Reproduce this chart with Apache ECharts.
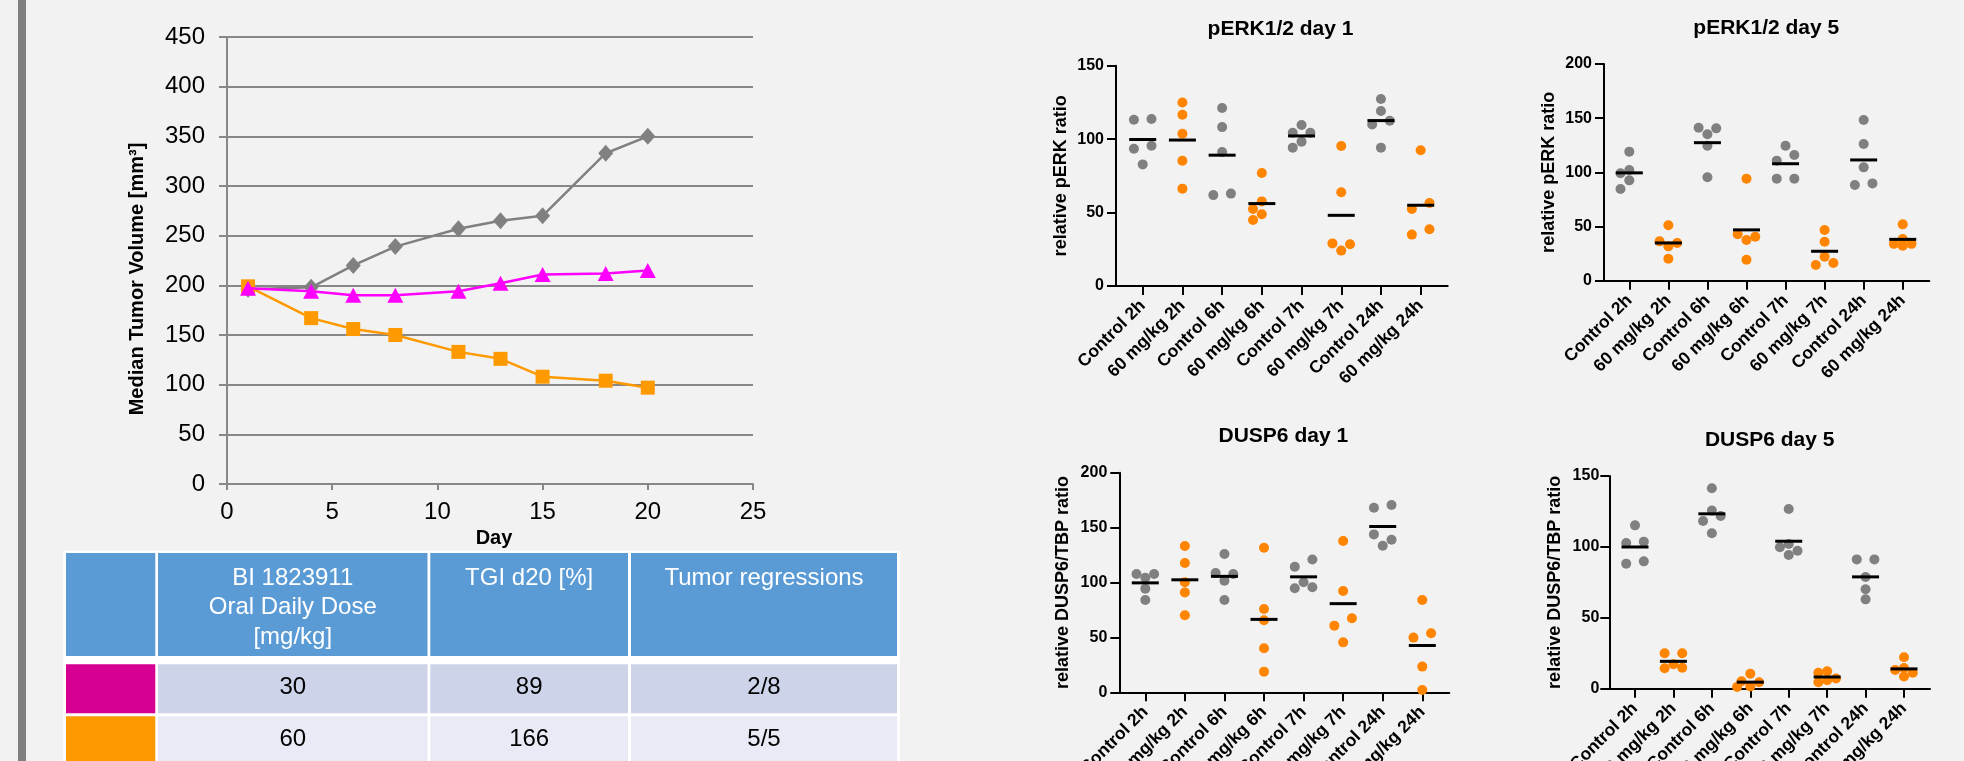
<!DOCTYPE html>
<html>
<head>
<meta charset="utf-8">
<script src="https://cdn.jsdelivr.net/npm/echarts@6/dist/echarts.min.js"></script>
<style>
html,body{margin:0;padding:0;background:#F2F2F2;}
#c{width:1964px;height:761px;}
</style>
</head>
<body>
<div id="c"></div>
<script>
// ===================== DATA =====================
// Median tumor volume chart
const days = [1, 4, 6, 8, 11, 13, 15, 18, 20];
const volControl = [196, 198, 220, 239, 257, 265, 270, 333, 350];
const vol30 = [197, 194, 190, 190, 194, 202, 211, 212, 215];
const vol60 = [199, 167, 156, 150, 133, 126, 108, 104, 97];

// Table below the line chart
const tableHeader = ['', 'BI 1823911\nOral Daily Dose\n[mg/kg]', 'TGI d20 [%]', 'Tumor regressions'];
const tableDose = ['30', '60'];
const tableTGI = ['89', '166'];
const tableRegressions = ['2/8', '5/5'];
const tableSwatch = ['#D60093', '#FF9900'];

// Scatter dot plots (each group: 5 animals)
const groups = ['Control 2h', '60 mg/kg 2h', 'Control 6h', '60 mg/kg 6h',
                'Control 7h', '60 mg/kg 7h', 'Control 24h', '60 mg/kg 24h'];
const perkDay1 = [
  [113.7, 113.2, 95.5, 93.5, 82.8],
  [125.0, 116.6, 103.7, 85.3, 66.3],
  [121.2, 108.2, 91.2, 62.9, 61.9],
  [76.9, 57.6, 52.4, 48.8, 44.9],
  [109.6, 104.4, 104.4, 98.3, 94.2],
  [95.3, 63.8, 29.0, 28.4, 24.1],
  [127.3, 119.1, 112.5, 110.0, 94.2],
  [92.4, 56.5, 52.4, 38.6, 35.0]
];
const perkDay5 = [
  [119.1, 102.2, 99.1, 92.6, 84.6],
  [51.1, 36.3, 34.8, 31.7, 20.3],
  [141.2, 140.6, 135.1, 124.6, 95.4],
  [94.2, 42.8, 40.6, 37.5, 19.4],
  [124.6, 116.0, 110.8, 94.2, 94.2],
  [46.8, 36.0, 22.2, 16.3, 14.5],
  [148.3, 126.2, 104.6, 89.8, 88.3],
  [52.0, 38.5, 34.0, 34.0, 32.3]
];
const duspDay1 = [
  [107.7, 107.7, 104.4, 94.4, 84.1],
  [133.2, 117.8, 100.2, 91.0, 70.1],
  [125.9, 108.6, 107.7, 101.7, 84.1],
  [131.7, 75.9, 65.6, 40.1, 18.8],
  [121.0, 114.3, 100.2, 95.6, 94.7],
  [137.8, 92.3, 67.4, 60.7, 45.5],
  [170.6, 168.1, 143.8, 139.0, 133.5],
  [84.1, 53.7, 49.8, 23.4, 2.1]
];
const duspDay5 = [
  [115.2, 103.7, 102.8, 89.8, 88.2],
  [25.0, 25.0, 17.3, 14.8, 14.4],
  [141.3, 125.6, 121.8, 118.3, 109.6],
  [10.5, 5.3, 4.6, 1.5, 1.2],
  [126.7, 102.0, 99.7, 97.3, 94.3],
  [12.3, 11.2, 7.2, 6.0, 4.6],
  [91.2, 91.2, 78.8, 70.1, 63.0],
  [22.2, 14.6, 13.2, 11.2, 8.6]
];

// ===================== LAYOUT / STYLE =====================
const FONT = '"Liberation Sans", Arial, Helvetica, sans-serif';
const DOT = 10;     // dot diameter px
const SLOT = 8.8;   // horizontal spread step px

const panels = [
  {title: 'pERK1/2 day 1', yName: 'relative pERK ratio', data: perkDay1, yMax: 150,
   left: 1116, top: 65.7, right: 1447.7, bottom: 286, firstTick: 1142.7, band: 39.71,
   titleX: 1280.5, titleY: 29.5, nameX: 1060.7, labelMargin: 12},
  {title: 'pERK1/2 day 5', yName: 'relative pERK ratio', data: perkDay5, yMax: 200,
   left: 1604, top: 64, right: 1929.3, bottom: 280.7, firstTick: 1629.3, band: 39.06,
   titleX: 1766.3, titleY: 28.3, nameX: 1549.3, labelMargin: 12},
  {title: 'DUSP6 day 1', yName: 'relative DUSP6/TBP ratio', data: duspDay1, yMax: 200,
   left: 1119.3, top: 472.7, right: 1449.3, bottom: 692.3, firstTick: 1145.3, band: 39.57,
   titleX: 1283.3, titleY: 436, nameX: 1062.7, labelMargin: 12},
  {title: 'DUSP6 day 5', yName: 'relative DUSP6/TBP ratio', data: duspDay5, yMax: 150,
   left: 1609.3, top: 476, right: 1930, bottom: 688.7, firstTick: 1635, band: 38.43,
   titleX: 1769.7, titleY: 440.7, nameX: 1555, labelMargin: 10}
];

// beeswarm-like horizontal spreading (in slot units), computed from the values
function swarm(vals, d) {
  const idx = vals.map((v, i) => i).sort((a, b) => vals[b] - vals[a]);
  const off = new Array(vals.length).fill(0);
  const rows = [];
  idx.forEach((id, k) => {
    if (k > 0 && vals[idx[k - 1]] - vals[id] < d) rows[rows.length - 1].push(id);
    else rows.push([id]);
  });
  rows.forEach(r => {
    if (r.length === 1) { off[r[0]] = 0; }
    else if (r.length === 2) { off[r[0]] = 1; off[r[1]] = -1; }
    else if (r.length === 3) {
      const g01 = vals[r[0]] - vals[r[1]], g12 = vals[r[1]] - vals[r[2]];
      if (g01 <= g12) { off[r[0]] = -1; off[r[1]] = 1; off[r[2]] = 0; }
      else { off[r[1]] = 1; off[r[2]] = -1; off[r[0]] = 0; }
    } else {
      const placed = [];
      const cands = [0, -1, 1, -0.5, 0.5, -1.5, 1.5];
      r.forEach(id => {
        let best = 0, bestD = -1;
        for (const c of cands) {
          let md = Infinity;
          placed.forEach(([pc, pid]) => {
            const dy = (vals[id] - vals[pid]) / d, dx = c - pc;
            md = Math.min(md, Math.hypot(dx, dy));
          });
          if (md >= 0.9) { best = c; break; }
          if (md > bestD) { bestD = md; best = c; }
        }
        off[id] = best; placed.push([best, id]);
      });
    }
  });
  return off;
}

const grids = [], xAxes = [], yAxes = [], series = [], graphics = [];
const pairs = (xs, ys) => xs.map((x, i) => [x, ys[i]]);

// ---------- line chart ----------
grids.push({left: 227, top: 37, width: 526, height: 447, outerBoundsMode: 'none'});
const lineGray = '#878787';
xAxes.push({
  type: 'value', gridIndex: 0, min: 0, max: 25, interval: 5,
  name: 'Day', nameLocation: 'middle', nameGap: 33,
  nameTextStyle: {fontFamily: FONT, fontWeight: 'bold', fontSize: 20, color: '#000', padding: [0, 0, 0, 8]},
  axisLine: {show: true, onZero: false, lineStyle: {color: lineGray, width: 2}},
  axisTick: {show: true, length: 6, lineStyle: {color: lineGray, width: 2}},
  axisLabel: {fontFamily: FONT, fontSize: 24, color: '#000', margin: 16},
  splitLine: {show: false}
});
yAxes.push({
  type: 'value', gridIndex: 0, min: 0, max: 450, interval: 50,
  name: 'Median Tumor Volume [mm³]', nameLocation: 'middle', nameGap: 80,
  nameTextStyle: {fontFamily: FONT, fontWeight: 'bold', fontSize: 20, color: '#000', padding: [0, 37, 0, 0]},
  axisLine: {show: true, onZero: false, lineStyle: {color: lineGray, width: 2}},
  axisTick: {show: true, length: 8, lineStyle: {color: lineGray, width: 2}},
  axisLabel: {fontFamily: FONT, fontSize: 24, color: '#000', margin: 22},
  splitLine: {show: true, lineStyle: {color: lineGray, width: 2}}
});
series.push({type: 'line', xAxisIndex: 0, yAxisIndex: 0, data: pairs(days, volControl),
  symbol: 'diamond', symbolSize: [15, 17], lineStyle: {color: '#808080', width: 2.5},
  itemStyle: {color: '#808080'}, z: 2});
series.push({type: 'line', xAxisIndex: 0, yAxisIndex: 0, data: pairs(days, vol60),
  symbol: 'rect', symbolSize: 14, lineStyle: {color: '#FF9900', width: 2.5},
  itemStyle: {color: '#FF9900'}, z: 3});
series.push({type: 'line', xAxisIndex: 0, yAxisIndex: 0, data: pairs(days, vol30),
  symbol: 'triangle', symbolSize: [16, 15], lineStyle: {color: '#FF00FF', width: 2.5},
  itemStyle: {color: '#FF00FF'}, z: 4});

// ---------- scatter panels ----------
panels.forEach((p, k) => {
  const gi = k + 1;
  grids.push({left: p.left, top: p.top, width: p.right - p.left, height: p.bottom - p.top, outerBoundsMode: 'none'});
  const ticks = groups.map((g, i) => i);
  xAxes.push({
    type: 'value', gridIndex: gi,
    min: (p.left - p.firstTick) / p.band, max: (p.right - p.firstTick) / p.band,
    axisLine: {show: true, onZero: false, lineStyle: {color: '#000', width: 2}},
    axisTick: {show: true, customValues: ticks, length: 9, lineStyle: {color: '#000', width: 2}},
    axisLabel: {show: true, customValues: ticks, formatter: v => groups[Math.round(v)],
      rotate: 45, margin: 17, padding: [24, 0, 0, 0],
      fontFamily: FONT, fontWeight: 'bold', fontSize: 17.5, color: '#000'},
    splitLine: {show: false}
  });
  yAxes.push({
    type: 'value', gridIndex: gi, min: 0, max: p.yMax, interval: 50,
    name: p.yName, nameLocation: 'middle', nameGap: p.left - p.nameX - 9,
    nameTextStyle: {fontFamily: FONT, fontWeight: 'bold', fontSize: 18, color: '#000'},
    axisLine: {show: true, onZero: false, lineStyle: {color: '#000', width: 2}},
    axisTick: {show: true, length: 9, lineStyle: {color: '#000', width: 2}},
    axisLabel: {fontFamily: FONT, fontWeight: 'bold', fontSize: 16, color: '#000', margin: p.labelMargin},
    splitLine: {show: false}
  });
  const dUnits = DOT / ((p.bottom - p.top) / p.yMax);
  const slotUnit = SLOT / p.band;
  const ctrl = [], trt = [], means = [];
  p.data.forEach((vals, i) => {
    const offs = swarm(vals, dUnits);
    vals.forEach((v, j) => (i % 2 === 0 ? ctrl : trt).push([i + offs[j] * slotUnit, v]));
    means.push([i, vals.reduce((a, b) => a + b, 0) / vals.length]);
  });
  series.push({type: 'scatter', xAxisIndex: gi, yAxisIndex: gi, data: ctrl, symbolSize: DOT,
    itemStyle: {color: '#808080', opacity: 1}, z: 2});
  series.push({type: 'scatter', xAxisIndex: gi, yAxisIndex: gi, data: trt, symbolSize: DOT,
    itemStyle: {color: '#FF8400', opacity: 1}, z: 2});
  series.push({type: 'scatter', xAxisIndex: gi, yAxisIndex: gi, data: means, symbol: 'rect',
    symbolSize: [27, 3], itemStyle: {color: '#000', opacity: 1}, z: 3});
  graphics.push({type: 'text', style: {text: p.title, x: p.titleX, y: p.titleY,
    textAlign: 'center', textVerticalAlign: 'middle', fill: '#000',
    font: 'bold 21px ' + FONT}});
});

// ---------- left bar ----------
graphics.push({type: 'rect', shape: {x: 18, y: 0, width: 8, height: 761}, style: {fill: '#7F7F7F'}, z: 0});

// ---------- table ----------
const colX = [[66, 155.3], [158, 427.5], [430.3, 628], [631, 897]];
const headY = [553, 656];
const rowY = [[664.3, 713.3], [716.3, 765.3]];
const rowFill = ['#CDD4EA', '#E8EBF5'];
graphics.push({type: 'rect', shape: {x: 63.3, y: 550.7, width: 836.7, height: 215}, style: {fill: '#FFFFFF'}, z: 0});
colX.forEach((c, j) => {
  graphics.push({type: 'rect', shape: {x: c[0], y: headY[0], width: c[1] - c[0], height: headY[1] - headY[0]},
    style: {fill: '#5B9BD5'}, z: 1});
  if (tableHeader[j]) {
    graphics.push({type: 'text', z: 2, style: {text: tableHeader[j], x: (c[0] + c[1]) / 2, y: 563.3,
      textAlign: 'center', textVerticalAlign: 'top', lineHeight: 29.5, fill: '#FFFFFF',
      font: '24px ' + FONT}});
  }
});
tableDose.forEach((dose, r) => {
  const cells = [null, dose, tableTGI[r], tableRegressions[r]];
  colX.forEach((c, j) => {
    graphics.push({type: 'rect', shape: {x: c[0], y: rowY[r][0], width: c[1] - c[0], height: rowY[r][1] - rowY[r][0]},
      style: {fill: j === 0 ? tableSwatch[r] : rowFill[r]}, z: 1});
    if (cells[j] !== null) {
      graphics.push({type: 'text', z: 2, style: {text: cells[j], x: (c[0] + c[1]) / 2,
        y: (rowY[r][0] + rowY[r][1]) / 2 - 1.5, textAlign: 'center', textVerticalAlign: 'middle',
        fill: '#000', font: '24px ' + FONT}});
    }
  });
});

const chart = echarts.init(document.getElementById('c'), null, {renderer: 'canvas', width: 1964, height: 761});
chart.setOption({
  backgroundColor: '#F2F2F2',
  animation: false,
  textStyle: {fontFamily: FONT},
  grid: grids,
  xAxis: xAxes,
  yAxis: yAxes,
  series: series,
  graphic: {elements: graphics}
});
</script>
</body>
</html>
